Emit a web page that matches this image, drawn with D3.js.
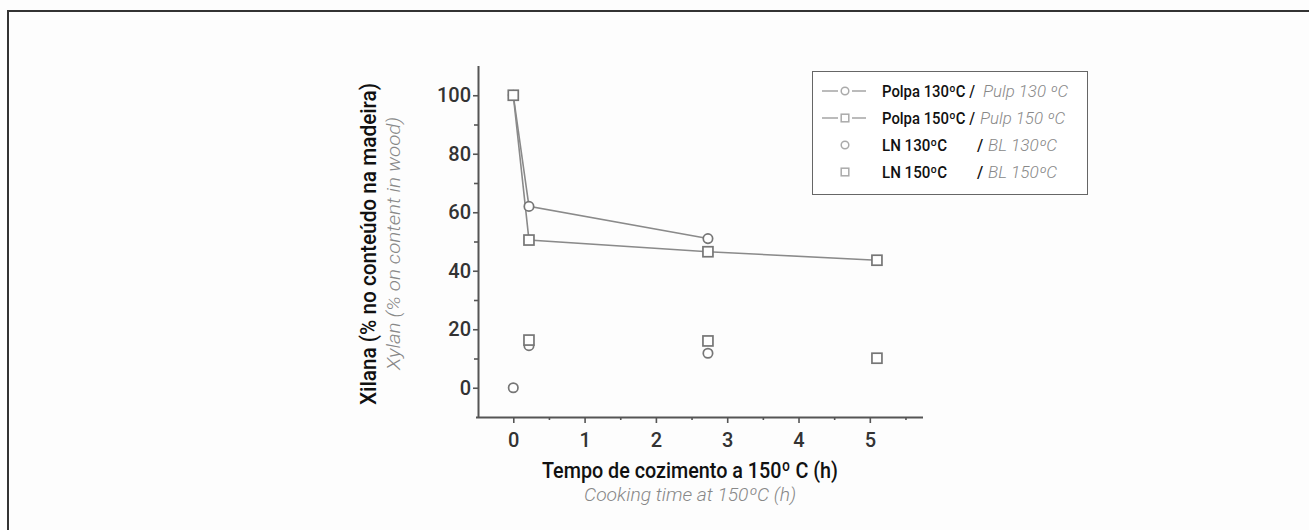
<!DOCTYPE html>
<html><head><meta charset="utf-8">
<script src="https://cdn.jsdelivr.net/npm/d3@7"></script>
<style>
html,body{margin:0;padding:0;background:#fdfdfd;}
svg{display:block;}
</style></head>
<body>
<svg id="chart" width="1309" height="530"></svg>
<script>
// ---- data ----
const timesPulp130 = [0, 0.22, 2.73];
const valuesPulp130 = [100, 62, 51];
const timesPulp150 = [0, 0.22, 2.73, 5.1];
const valuesPulp150 = [100, 50.5, 46.5, 43.6];
const timesLN130 = [0, 0.22, 2.73];
const valuesLN130 = [0, 14.4, 11.8];
const timesLN150 = [0.22, 2.73, 5.1];
const valuesLN150 = [16.3, 16, 10.1];
const xMajorTicks = [0, 1, 2, 3, 4, 5];
const xMinorTicks = [0.5, 1.5, 2.5, 3.5, 4.5, 5.5];
const yMajorTicks = [0, 20, 40, 60, 80, 100];
const yMinorTicks = [10, 30, 50, 70, 90];
const legendMain = ["Polpa 130ºC /", "Polpa 150ºC /", "LN 130ºC", "LN 150ºC"];
const legendAlt = ["Pulp 130 ºC", "Pulp 150 ºC", "BL 130ºC", "BL 150ºC"];
const legendKinds = [["line","circle"],["line","square"],["","circle"],["","square"]];

const FONT = "Roboto,'Liberation Sans',sans-serif";
const svg = d3.select("#chart");

// frame (top and left only)
svg.append("path").attr("d","M8,530 V11 H1309").attr("fill","none").attr("stroke","#333").attr("stroke-width",2);

const x = d3.scaleLinear().domain([-0.52, 5.75]).range([476.2, 923.3]);
const y = d3.scaleLinear().domain([-10, 110]).range([417, 66]);

const axisColor = "#555";
// X axis
const gx = svg.append("g").attr("transform","translate(0,417)");
gx.call(d3.axisBottom(x).tickValues(xMajorTicks).tickSize(6).tickFormat(d3.format("d")));
const gxm = svg.append("g").attr("transform","translate(0,417)");
gxm.call(d3.axisBottom(x).tickValues(xMinorTicks).tickSize(3).tickFormat(""));
gxm.select(".domain").remove();
// Y axis
const gy = svg.append("g").attr("transform","translate(478,0)");
gy.call(d3.axisLeft(y).tickValues(yMajorTicks).tickSize(5).tickFormat(d3.format("d")));
const gym = svg.append("g").attr("transform","translate(478,0)");
gym.call(d3.axisLeft(y).tickValues(yMinorTicks).tickSize(4).tickFormat(""));
gym.select(".domain").remove();

svg.selectAll(".domain").attr("stroke",axisColor).attr("stroke-width",2);
svg.selectAll(".tick line").attr("stroke",axisColor).attr("stroke-width",1.6);
svg.selectAll(".tick text").attr("font-family",FONT).attr("font-size",20).attr("fill","#333").attr("font-weight",500);
gx.selectAll(".tick text").attr("dy","1.05em");
gy.selectAll(".tick text").attr("dx","0.05em");
gx.select(".domain").attr("d","M476,0.5H923");
gy.select(".domain").attr("d","M0.5,66V418");

// lines
const lineColor = "#8a8a8a";
const markColor = "#767676";
function series(xs, ys){ return xs.map((t,i)=>({t, v: ys[i]})); }
const line = d3.line().x(d=>x(d.t)).y(d=>y(d.v));
[series(timesPulp130, valuesPulp130), series(timesPulp150, valuesPulp150)].forEach(s=>{
  svg.append("path").datum(s).attr("d", line).attr("fill","none").attr("stroke",lineColor).attr("stroke-width",1.6);
});

function drawCircles(data){
  svg.append("g").selectAll("circle").data(data).join("circle")
    .attr("cx",d=>x(d.t)).attr("cy",d=>y(d.v)).attr("r",4.7)
    .attr("fill","#fff").attr("stroke",markColor).attr("stroke-width",1.7);
}
function drawSquares(data){
  const s = 10;
  svg.append("g").selectAll("rect").data(data).join("rect")
    .attr("x",d=>x(d.t)-s/2).attr("y",d=>y(d.v)-s/2).attr("width",s).attr("height",s)
    .attr("fill","#fff").attr("stroke",markColor).attr("stroke-width",1.7);
}
drawCircles(series(timesPulp130, valuesPulp130));
drawSquares(series(timesPulp150, valuesPulp150));
drawCircles(series(timesLN130, valuesLN130));
drawSquares(series(timesLN150, valuesLN150));

// legend
const lg = svg.append("g");
lg.append("rect").attr("x",812.5).attr("y",71.5).attr("width",275).attr("height",123)
  .attr("fill","#fff").attr("stroke","#666").attr("stroke-width",1);
const rowY = [91, 118, 145, 172];
const legColor = "#aaa";
const mainLen = [93, 93, 65, 65];
const altX = [983, 980, 988, 988];
const altLen = [85, 85, 69, 69];
legendKinds.forEach((k,i)=>{
  const cy = rowY[i];
  if(k[0]==="line"){
    lg.append("line").attr("x1",822).attr("x2",838).attr("y1",cy).attr("y2",cy).attr("stroke",legColor).attr("stroke-width",1.6);
    lg.append("line").attr("x1",852).attr("x2",866).attr("y1",cy).attr("y2",cy).attr("stroke",legColor).attr("stroke-width",1.6);
  }
  if(k[1]==="circle"){
    lg.append("circle").attr("cx",845).attr("cy",cy).attr("r",3.8).attr("fill","#fff").attr("stroke",legColor).attr("stroke-width",1.5);
  } else {
    lg.append("rect").attr("x",841.2).attr("y",cy-3.8).attr("width",7.6).attr("height",7.6).attr("fill","#fff").attr("stroke",legColor).attr("stroke-width",1.5);
  }
  lg.append("text").attr("x",882).attr("y",cy+5.5).attr("font-family",FONT).attr("font-size",16).attr("font-weight",500).attr("fill","#111")
    .attr("textLength",mainLen[i]).attr("lengthAdjust","spacingAndGlyphs").text(legendMain[i]);
  if(i>=2){
    lg.append("text").attr("x",977).attr("y",cy+5.5).attr("font-family",FONT).attr("font-size",16).attr("font-weight",500).attr("fill","#111").text("/");
  }
  lg.append("text").attr("x",altX[i]).attr("y",cy+5.5).attr("font-family",FONT).attr("font-size",16).attr("font-style","italic").attr("font-weight",300).attr("fill","#888")
    .attr("textLength",altLen[i]).attr("lengthAdjust","spacingAndGlyphs").text(legendAlt[i]);
});

// axis titles
svg.append("text").attr("transform","translate(376,244) rotate(-90)").attr("text-anchor","middle")
  .attr("font-family",FONT).attr("font-size",22).attr("font-weight",500).attr("fill","#111")
  .attr("textLength",322).attr("lengthAdjust","spacingAndGlyphs")
  .text("Xilana (% no conteúdo na madeira)");
svg.append("text").attr("transform","translate(400,243.5) rotate(-90)").attr("text-anchor","middle")
  .attr("font-family",FONT).attr("font-size",18).attr("font-style","italic").attr("font-weight",300).attr("fill","#888")
  .attr("textLength",253).attr("lengthAdjust","spacingAndGlyphs")
  .text("Xylan (% on content in wood)");
svg.append("text").attr("x",690).attr("y",478).attr("text-anchor","middle")
  .attr("font-family",FONT).attr("font-size",22).attr("font-weight",500).attr("fill","#111")
  .attr("textLength",296).attr("lengthAdjust","spacingAndGlyphs")
  .text("Tempo de cozimento a 150º C (h)");
svg.append("text").attr("x",690).attr("y",501).attr("text-anchor","middle")
  .attr("font-family",FONT).attr("font-size",18).attr("font-style","italic").attr("font-weight",300).attr("fill","#888")
  .attr("textLength",212).attr("lengthAdjust","spacingAndGlyphs")
  .text("Cooking time at 150ºC (h)");
</script>
</body></html>
